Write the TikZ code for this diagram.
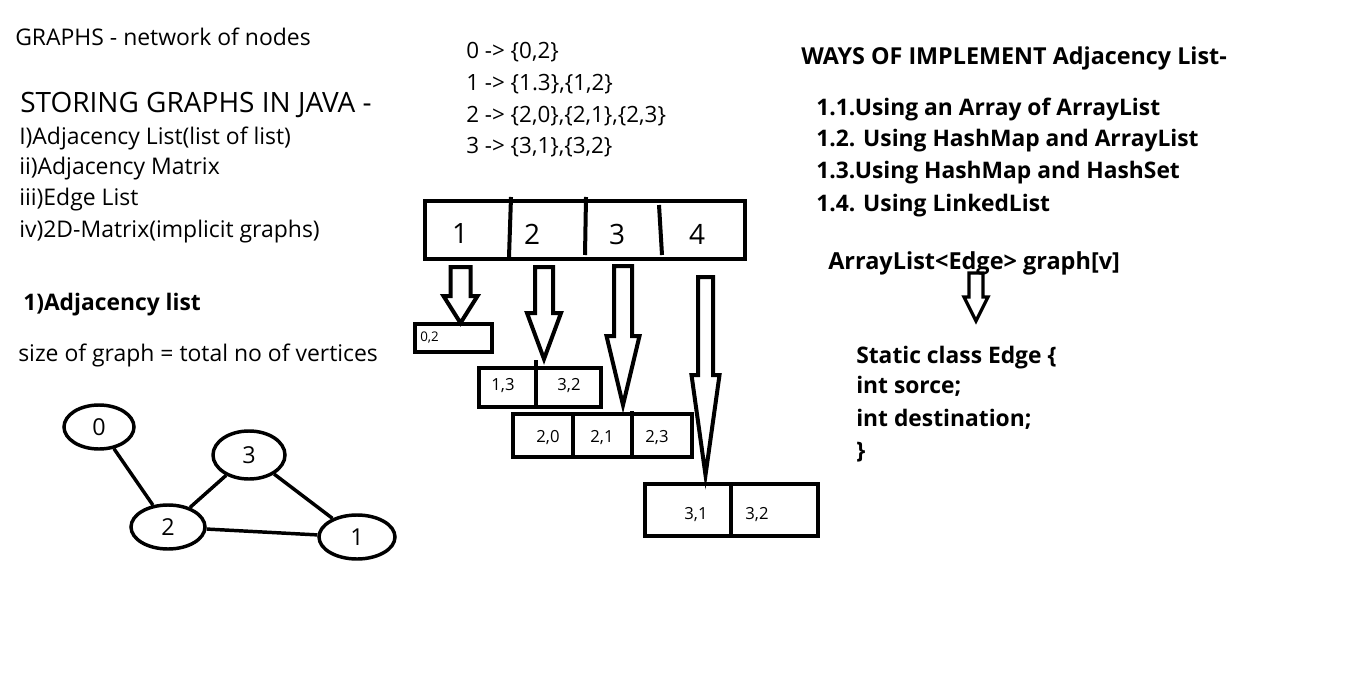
\documentclass[tikz,border=0pt]{standalone}
\usepackage{fontspec}
\setmainfont{Open Sans}
\usetikzlibrary{shapes.geometric}
\begin{document}
\begin{tikzpicture}[x=0.75pt,y=-0.75pt,
  txt/.style={anchor=base west, inner sep=0pt, font=\fontsize{17.2}{20}\selectfont},
  mid/.style={anchor=base west, inner sep=0pt, font=\fontsize{16.8}{20}\selectfont},
  big/.style={anchor=base west, inner sep=0pt, font=\fontsize{21}{24}\selectfont},
  bold/.style={anchor=base west, inner sep=0pt, font=\fontsize{17.1}{20}\selectfont\bfseries},
  boxline/.style={draw=black, line width=3pt},
  arrline/.style={draw=black, line width=3pt, line join=miter},
  cellbox/.style={boxline, rectangle, inner sep=0pt},
  celltxt/.style={inner sep=0pt, font=\fontsize{12.5}{14}\selectfont},
  digit/.style={inner sep=0pt, font=\fontsize{21}{24}\selectfont},
  vert/.style={ellipse, draw=black, line width=2.6pt, inner sep=0pt, font=\fontsize{17.5}{20}\selectfont},
  gedge/.style={draw=black, line width=2.6pt}
]
\useasboundingbox (0,0) rectangle (1358,677);
\fill[white] (0,0) rectangle (1358,677);

% left texts
\node[txt] (t1) at (15,46) {GRAPHS - network of nodes};
\node[big] (t2) at (20,113) {STORING GRAPHS IN JAVA -};
\node[txt] (t3) at (19,145) {I)Adjacency List(list of list)};
\node[txt] (t4) at (19,175) {ii)Adjacency Matrix};
\node[txt] (t5) at (19,206) {iii)Edge List};
\node[txt] (t6) at (19,238) {iv)2D-Matrix(implicit graphs)};
\node[bold] (t7) at (23,310) {1)Adjacency list};
\node[txt] (t8) at (18,361) {size of graph = total no of vertices};

% middle adjacency text
\node[mid] (m0) at (466,59) {0 -> \{0,2\}};
\node[mid] (m1) at (466,91) {1 -> \{1.3\},\{1,2\}};
\node[mid] (m2) at (466,123) {2 -> \{2,0\},\{2,1\},\{2,3\}};
\node[mid] (m3) at (466,154) {3 -> \{3,1\},\{3,2\}};

% right texts
\node[bold, font=\fontsize{17.5}{20}\selectfont\bfseries] (r0) at (801,65) {WAYS OF IMPLEMENT Adjacency List-};
\node[bold] (r1) at (816,116) {1.1.Using an Array of ArrayList};
\node[bold] (r2) at (816,147) {1.2. Using HashMap and ArrayList};
\node[bold] (r3) at (816,179) {1.3.Using HashMap and HashSet};
\node[bold] (r4) at (816,212) {1.4. Using LinkedList};
\node[bold, font=\fontsize{17.6}{20}\selectfont\bfseries] (r5) at (828,269) {ArrayList<Edge> graph[v]};
\node[bold] (r6) at (856,363) {Static class Edge \{};
\node[bold] (r7) at (856,393) {int sorce;};
\node[bold] (r8) at (856,426) {int destination;};
\node[bold] (r9) at (856,458) {\}};

% top array
\node[cellbox, minimum width=240pt, minimum height=43.5pt] (arr) at (585,230) {};
\draw[boxline] (511,197) -- (509,257);
\draw[boxline] (586,197) -- (585,255);
\draw[boxline] (659,205) -- (662,255);
\node[digit] (a1) at (460,234) {1};
\node[digit] (a2) at (532,234) {2};
\node[digit] (a3) at (617,234) {3};
\node[digit] (a4) at (697,234) {4};

% lists
\node[cellbox, minimum width=57.75pt, minimum height=21pt] (b0) at (453.5,338) {};
\node[celltxt, anchor=west, font=\fontsize{10}{12}\selectfont] (b0t) at (420,338) {0,2};

\node[cellbox, minimum width=91.5pt, minimum height=29.25pt] (b1) at (540,387.5) {};
\draw[boxline] (536,360) -- (536,407);
\node[celltxt] (b1a) at (503,386) {1,3};
\node[celltxt] (b1b) at (569,386) {3,2};

\node[cellbox, minimum width=134.25pt, minimum height=32.25pt] (b2) at (602.5,435.5) {};
\draw[boxline] (573,414) -- (573,457);
\draw[boxline] (632,411) -- (632,457);
\node[celltxt] (b2a) at (548,438) {2,0};
\node[celltxt] (b2b) at (602,438) {2,1};
\node[celltxt] (b2c) at (657,438) {2,3};

\node[cellbox, minimum width=129.75pt, minimum height=39pt] (b3) at (731.5,509.5) {};
\draw[boxline] (731,483) -- (731,535);
\node[celltxt] (b3a) at (696,515) {3,1};
\node[celltxt] (b3b) at (757,515) {3,2};

% hollow arrows
\newcommand\hollowarrow[7]{%
  \draw[arrline,#7] (#1-#3,#2) -- (#1+#3,#2) -- (#1+#3,#5) -- (#1+#4,#5) -- (#1,#6)
     -- (#1-#4,#5) -- (#1-#3,#5) -- cycle;}
\hollowarrow{460.5}{267}{10}{17}{296}{323}{}
\hollowarrow{544}{267}{9}{17}{313}{359}{}
\hollowarrow{623}{266}{9}{16.5}{336}{405}{}
\hollowarrow{705.5}{277}{7.5}{14}{375}{475}{}
\hollowarrow{976}{273}{7}{12}{297}{321}{line width=2.4pt}

% graph
\node[vert, minimum width=52.5pt, minimum height=33pt] (g0) at (99,427) {0};
\node[vert, minimum width=54pt, minimum height=36pt] (g3) at (249,455) {3};
\node[vert, minimum width=55.5pt, minimum height=33pt] (g2) at (168,527) {2};
\node[vert, minimum width=57pt, minimum height=33pt] (g1) at (357,537) {1};
\draw[gedge] (g0) -- (g2);
\draw[gedge] (g3) -- (g2);
\draw[gedge] (g3) -- (g1);
\draw[gedge] (g2) -- (g1);
\end{tikzpicture}
\end{document}
